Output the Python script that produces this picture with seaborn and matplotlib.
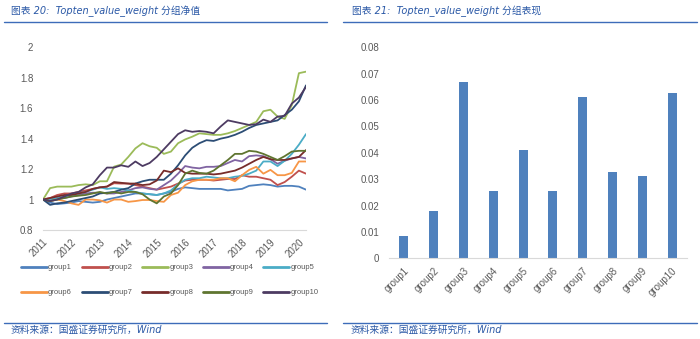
import numpy as np
import pandas as pd
import matplotlib
matplotlib.use("Agg")
import matplotlib.pyplot as plt
import seaborn as sns
from matplotlib.lines import Line2D

# ---------------- data ----------------
# quarterly observation points (decimal years)
dates = np.arange(2011.0, 2020.26, 0.25)

group_names = ["group1", "group2", "group3", "group4", "group5",
               "group6", "group7", "group8", "group9", "group10"]

group1 = [1.00, 0.98, 0.97, 0.975, 0.98, 0.99, 0.985, 0.98, 0.985, 1.00,
          1.01, 1.02, 1.03, 1.04, 1.04, 1.035, 1.03, 1.04, 1.05, 1.07,
          1.08, 1.075, 1.07, 1.07, 1.07, 1.07, 1.06, 1.065, 1.07, 1.09,
          1.095, 1.10, 1.095, 1.085, 1.09, 1.09, 1.085, 1.065]
group2 = [1.00, 1.01, 1.03, 1.04, 1.04, 1.05, 1.06, 1.07, 1.08, 1.085,
          1.107, 1.105, 1.105, 1.095, 1.085, 1.075, 1.065, 1.075, 1.085, 1.105,
          1.125, 1.13, 1.13, 1.13, 1.125, 1.13, 1.135, 1.135, 1.16, 1.15,
          1.15, 1.14, 1.13, 1.095, 1.115, 1.15, 1.19, 1.17]
group3 = [1.00, 1.075, 1.085, 1.085, 1.085, 1.095, 1.10, 1.095, 1.12, 1.12,
          1.216, 1.23, 1.28, 1.336, 1.37, 1.35, 1.34, 1.30, 1.315, 1.37,
          1.395, 1.413, 1.435, 1.43, 1.425, 1.425, 1.435, 1.45, 1.47, 1.49,
          1.51, 1.58, 1.59, 1.545, 1.53, 1.62, 1.83, 1.84]
group4 = [1.00, 1.00, 1.008, 1.01, 1.02, 1.03, 1.04, 1.045, 1.045, 1.04,
          1.04, 1.05, 1.06, 1.075, 1.08, 1.07, 1.065, 1.095, 1.125, 1.17,
          1.22, 1.21, 1.205, 1.215, 1.215, 1.22, 1.24, 1.26, 1.25, 1.285,
          1.29, 1.285, 1.265, 1.235, 1.255, 1.27, 1.28, 1.27]
group5 = [1.00, 1.00, 1.01, 1.02, 1.03, 1.04, 1.05, 1.065, 1.08, 1.07,
          1.075, 1.07, 1.06, 1.05, 1.04, 1.035, 1.03, 1.04, 1.06, 1.10,
          1.13, 1.14, 1.14, 1.15, 1.145, 1.14, 1.14, 1.15, 1.155, 1.17,
          1.19, 1.25, 1.25, 1.22, 1.255, 1.30, 1.36, 1.43]
group6 = [1.00, 0.99, 1.00, 0.99, 0.975, 0.965, 1.00, 1.00, 0.995, 0.98,
          1.00, 1.00, 0.985, 0.99, 0.997, 0.997, 0.99, 0.985, 1.03, 1.045,
          1.095, 1.12, 1.13, 1.13, 1.13, 1.14, 1.14, 1.12, 1.16, 1.195,
          1.215, 1.17, 1.195, 1.16, 1.16, 1.175, 1.25, 1.25]
group7 = [1.00, 0.965, 0.975, 0.98, 0.99, 1.00, 1.01, 1.02, 1.04, 1.045,
          1.05, 1.065, 1.075, 1.105, 1.12, 1.13, 1.13, 1.13, 1.17, 1.225,
          1.29, 1.34, 1.37, 1.39, 1.385, 1.40, 1.41, 1.425, 1.445, 1.47,
          1.49, 1.50, 1.51, 1.52, 1.555, 1.59, 1.645, 1.75]
group8 = [1.00, 1.01, 1.02, 1.03, 1.03, 1.04, 1.05, 1.07, 1.08, 1.085,
          1.115, 1.11, 1.105, 1.105, 1.095, 1.10, 1.125, 1.19, 1.18, 1.205,
          1.175, 1.17, 1.17, 1.17, 1.165, 1.17, 1.18, 1.19, 1.21, 1.235,
          1.26, 1.28, 1.265, 1.26, 1.26, 1.27, 1.28, 1.325]
group9 = [1.00, 0.99, 1.00, 1.01, 1.02, 1.025, 1.03, 1.04, 1.05, 1.04,
          1.05, 1.04, 1.05, 1.05, 1.035, 1.00, 0.975, 1.02, 1.04, 1.095,
          1.17, 1.19, 1.175, 1.17, 1.19, 1.225, 1.26, 1.30, 1.30, 1.32,
          1.315, 1.30, 1.28, 1.26, 1.285, 1.315, 1.32, 1.32]
group10 = [1.00, 0.99, 1.00, 1.02, 1.04, 1.05, 1.08, 1.10, 1.16, 1.21,
           1.21, 1.225, 1.215, 1.25, 1.22, 1.24, 1.28, 1.33, 1.38, 1.43,
           1.455, 1.445, 1.45, 1.445, 1.435, 1.48, 1.52, 1.51, 1.50, 1.49,
           1.495, 1.525, 1.51, 1.545, 1.55, 1.63, 1.67, 1.74]

group_perf = [0.0083, 0.0181, 0.0668, 0.0256, 0.0410,
              0.0256, 0.0613, 0.0329, 0.0311, 0.0626]

year_ticks = list(range(2011, 2021))
year_labels = [str(y) for y in year_ticks]
nav_ticks = [0.8, 1.0, 1.2, 1.4, 1.6, 1.8, 2.0]
nav_labels = ["0.8", "1", "1.2", "1.4", "1.6", "1.8", "2"]
perf_ticks = [0, 0.01, 0.02, 0.03, 0.04, 0.05, 0.06, 0.07, 0.08]
perf_labels = ["0", "0.01", "0.02", "0.03", "0.04", "0.05", "0.06", "0.07", "0.08"]

title_left = "图表 20:  Topten_value_weight 分组净值"
title_right = "图表 21:  Topten_value_weight 分组表现"
source_text = "资料来源：国盛证券研究所，Wind"

# ---------------- styling ----------------
colors = ["#4F81BD", "#C0504D", "#9BBB59", "#8064A2", "#4BACC6",
          "#F79646", "#2C4D75", "#772C2A", "#5F7530", "#4D3B62"]
tick_color = "#595959"
blue_text = "#2A58A6"
rule_blue = "#3D6CB9"

sns.set_theme(style="white")
plt.rcParams['font.family'] = ['Liberation Sans', 'Noto Sans CJK SC', 'DejaVu Sans']

W, H = 700, 339
fig = plt.figure(figsize=(W / 100, H / 100), dpi=100)

def fx(px):
    return px / W

def fy(py):
    return 1 - py / H

# ---------------- left: NAV lines ----------------
series = [group1, group2, group3, group4, group5,
          group6, group7, group8, group9, group10]
wide = pd.DataFrame({"date": dates})
for name, vals in zip(group_names, series):
    wide[name] = vals
long = wide.melt(id_vars="date", var_name="group", value_name="nav")

ax1 = fig.add_axes([fx(43), fy(230), fx(306) - fx(43), fy(47.3) - fy(230)])
sns.lineplot(data=long, x="date", y="nav", hue="group", hue_order=group_names,
             palette=colors, linewidth=1.3, ax=ax1, legend=True)
handles, labels = ax1.get_legend_handles_labels()
ax1.get_legend().remove()

ax1.set_xlim(2011.0, 2020.25)
ax1.set_ylim(0.8, 2.0)
ax1.set_yticks(nav_ticks)
ax1.set_yticklabels(nav_labels)
ax1.set_xticks(year_ticks)
ax1.set_xticklabels(year_labels, rotation=45, ha="right", rotation_mode="anchor")
ax1.set_xlabel("")
ax1.set_ylabel("")
for s in ["top", "right", "left"]:
    ax1.spines[s].set_visible(False)
ax1.spines["bottom"].set_color("#D9D9D9")
ax1.spines["bottom"].set_linewidth(0.8)
ax1.tick_params(axis="both", length=0, labelsize=7, colors=tick_color)
ax1.tick_params(axis="y", pad=7)
ax1.tick_params(axis="x", pad=5)
ax1.grid(False)

# legend filled row by row (matplotlib fills column-wise)
ncol = 5
order = [r * ncol + c for c in range(ncol) for r in range(2)]
h_sorted = [handles[i] for i in order]
l_sorted = [labels[i] for i in order]
for h in h_sorted:
    h.set_linewidth(2.0)
fig.legend(h_sorted, l_sorted, ncol=ncol, loc="upper left",
           bbox_to_anchor=(fx(21), fy(264)), frameon=False,
           fontsize=5.5, handlelength=3.4, handletextpad=0.15,
           columnspacing=1.25, labelspacing=2.3, borderpad=0,
           borderaxespad=0, labelcolor=tick_color)

# ---------------- right: bars ----------------
ax2 = fig.add_axes([fx(389), fy(258.4), fx(687) - fx(389), fy(47.3) - fy(258.4)])
sns.barplot(x=group_names, y=group_perf, color="#4F81BD", width=0.3,
            saturation=1, linewidth=0, ax=ax2)
ax2.set_ylim(0, 0.08)
ax2.set_yticks(perf_ticks)
ax2.set_yticklabels(perf_labels)
ax2.set_xticks(range(len(group_names)))
ax2.set_xticklabels(group_names, rotation=45, ha="right", rotation_mode="anchor")
for s in ["top", "right", "left"]:
    ax2.spines[s].set_visible(False)
ax2.spines["bottom"].set_color("#D9D9D9")
ax2.spines["bottom"].set_linewidth(0.8)
ax2.tick_params(axis="both", length=0, labelsize=7, colors=tick_color)
ax2.tick_params(axis="y", pad=7)
ax2.tick_params(axis="x", pad=5)
ax2.grid(False)

# ---------------- titles, rules, source ----------------
txt_family = ['DejaVu Sans', 'Noto Sans CJK SC']
fig.text(fx(11), fy(11), title_left, color=blue_text, fontsize=7.0,
         style="italic", va="center", ha="left", family=txt_family)
fig.text(fx(352), fy(11), title_right, color=blue_text, fontsize=7.0,
         style="italic", va="center", ha="left", family=txt_family)

for (x0, x1) in [(4, 327), (343, 697)]:
    fig.add_artist(Line2D([fx(x0), fx(x1)], [fy(22), fy(22)], color=rule_blue, lw=1.0))
    fig.add_artist(Line2D([fx(x0), fx(x1)], [fy(322.5), fy(322.5)], color=rule_blue, lw=1.0))

fig.text(fx(11), fy(330), source_text, color=blue_text, fontsize=7,
         style="italic", va="center", ha="left", family=txt_family)
fig.text(fx(351), fy(330), source_text, color=blue_text, fontsize=7,
         style="italic", va="center", ha="left", family=txt_family)

fig.savefig("out.png", dpi=100)
